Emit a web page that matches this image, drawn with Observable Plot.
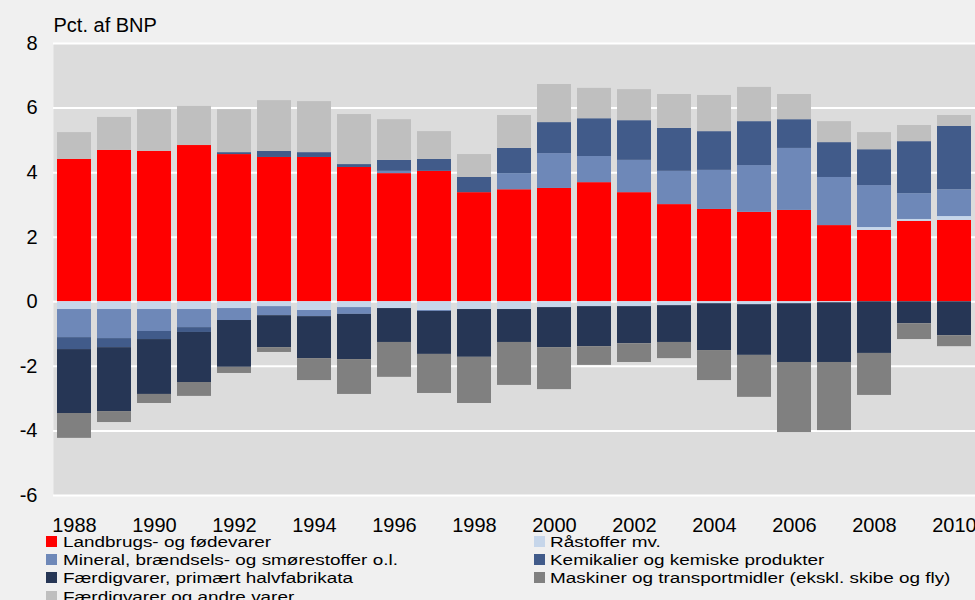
<!DOCTYPE html>
<html>
<head>
<meta charset="utf-8">
<script src="https://cdn.jsdelivr.net/npm/d3@7"></script>
<script src="https://cdn.jsdelivr.net/npm/@observablehq/plot@0.6"></script>
<style>
  body { margin: 0; background: #f0f0f0; font-family: "Liberation Sans", Arial, sans-serif; }
  #chart { width: 975px; height: 600px; overflow: hidden; position: relative; background: #f0f0f0; }
  .legend { display: grid; grid-template-columns: 487.6px 440px; padding-left: 46px; margin-top: -7px; line-height: 18.2px; font-size: 15.5px; color: #000; position: relative; }
  .item { white-space: nowrap; }
  .sw { display: inline-block; width: 11px; height: 11px; margin-right: 5.7px; }
  .lbl { display: inline-block; transform: scaleX(1.22); transform-origin: 0 0; }
</style>
</head>
<body>
<div id="chart"></div>
<script>
const years = [1988,1989,1990,1991,1992,1993,1994,1995,1996,1997,1998,1999,2000,2001,2002,2003,2004,2005,2006,2007,2008,2009,2010];

const landbrug      = [4.41,4.69,4.66,4.84,4.56,4.47,4.47,4.16,3.97,4.04,3.38,3.47,3.51,3.69,3.38,3.01,2.86,2.77,2.83,2.36,2.21,2.49,2.52];
const raastoffer    = [-0.24,-0.24,-0.24,-0.24,-0.21,-0.15,-0.27,-0.18,-0.21,-0.27,-0.24,-0.24,-0.18,-0.15,-0.15,-0.12,-0.06,-0.09,-0.06,-0.03,0.09,0.06,0.12];
const mineral       = [-0.87,-0.90,-0.68,-0.56,-0.37,-0.28,-0.19,-0.21,0.07,-0.03,0,0.50,1.08,0.81,1.00,1.03,1.21,1.45,1.92,1.49,1.30,0.80,0.83];
const kemikalier    = [-0.37,-0.28,-0.25,-0.15,0.06,0.19,0.15,0.09,0.34,0.37,0.47,0.78,0.96,1.17,1.23,1.33,1.20,1.36,0.89,1.08,1.11,1.61,1.96];
const halvfabrikata = [-1.98,-1.98,-1.70,-1.55,-1.45,-0.99,-1.30,-1.40,-1.05,-1.33,-1.48,-1.02,-1.24,-1.24,-1.15,-1.14,-1.45,-1.57,-1.82,-1.85,-1.60,-0.68,-1.05];
const maskiner      = [-0.77,-0.34,-0.28,-0.43,-0.19,-0.15,-0.68,-1.08,-1.08,-1.21,-1.43,-1.33,-1.30,-0.58,-0.58,-0.50,-0.93,-1.30,-2.17,-2.11,-1.30,-0.49,-0.34];
const andreVarer    = [0.83,1.02,1.29,1.21,1.33,1.57,1.58,1.55,1.26,0.86,0.71,1.02,1.18,0.94,0.96,1.05,1.12,1.06,0.78,0.65,0.53,0.50,0.34];

const seriesNames = [
  "Landbrugs- og fødevarer",
  "Råstoffer mv.",
  "Mineral, brændsels- og smørestoffer o.l.",
  "Kemikalier og kemiske produkter",
  "Færdigvarer, primært halvfabrikata",
  "Maskiner og transportmidler (ekskl. skibe og fly)",
  "Færdigvarer og andre varer"
];
const seriesValues = [landbrug, raastoffer, mineral, kemikalier, halvfabrikata, maskiner, andreVarer];
const seriesColors = ["#ff0000", "#c6d6ea", "#6e88b8", "#415b8a", "#263655", "#808080", "#bfbfbf"];

const yTicks = [-6, -4, -2, 0, 2, 4, 6, 8];
const xTicks = [1988,1990,1992,1994,1996,1998,2000,2002,2004,2006,2008,2010];
const yLabel = "Pct. af BNP";

const data = seriesNames.flatMap((name, i) =>
  years.map((year, j) => ({year, name, value: seriesValues[i][j]}))
);

const chart = Plot.plot({
  width: 975,
  height: 540,
  marginLeft: 53,
  marginRight: 0,
  marginTop: 43,
  marginBottom: 45,
  style: {background: "#f0f0f0", fontFamily: "'Liberation Sans', Arial, sans-serif", fontSize: "20px", color: "#000", overflow: "visible"},
  x: {type: "band", domain: years, paddingInner: 0.15, paddingOuter: 0.075, label: null},
  y: {domain: [-6, 8], label: null},
  color: {domain: seriesNames, range: seriesColors},
  marks: [
    Plot.frame({fill: "#dcdcdc", stroke: "none"}),
    Plot.gridY(yTicks, {stroke: "#ffffff", strokeOpacity: 1, strokeWidth: 2}),
    Plot.barY(data, {x: "year", y: "value", fill: "name", z: "name"}),
    Plot.axisY(yTicks, {tickSize: 0, tickPadding: 16, fontSize: 20, label: null, tickFormat: d => String(d)}),
    Plot.axisX(xTicks, {tickSize: 0, tickPadding: 22, fontSize: 20, label: null, tickFormat: d => String(d)}),
    Plot.text([yLabel], {frameAnchor: "top-left", lineAnchor: "bottom", textAnchor: "start", dy: -12, fontSize: 20})
  ]
});

const root = document.getElementById("chart");
root.appendChild(chart);

const legend = d3.select(root).append("div").attr("class", "legend");
seriesNames.forEach((name, i) => {
  const item = legend.append("div").attr("class", "item");
  item.append("span").attr("class", "sw").style("background", seriesColors[i]);
  item.append("span").attr("class", "lbl").text(name);
});
</script>
</body>
</html>
